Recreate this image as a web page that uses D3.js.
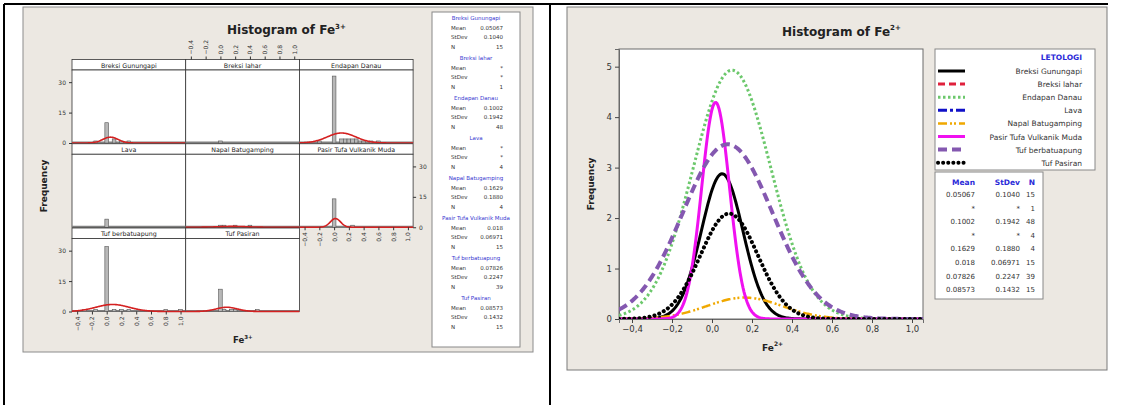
<!DOCTYPE html>
<html>
<head>
<meta charset="utf-8">
<script src="https://cdn.jsdelivr.net/npm/d3@7"></script>
<style>
  body { margin: 0; background: #fff; }
  svg { display: block; font-family: 'DejaVu Sans', sans-serif; }
</style>
</head>
<body>
<script>
/* globals d3 */

// values
const groups = ['Breksi Gunungapi', 'Breksi lahar', 'Endapan Danau', 'Lava',
  'Napal Batugamping', 'Pasir Tufa Vulkanik Muda', 'Tuf berbatuapung', 'Tuf Pasiran']
const means = [0.05067, null, 0.1002, null, 0.1629, 0.018, 0.07826, 0.08573]
const stdevs = [0.1040, null, 0.1942, null, 0.1880, 0.06971, 0.2247, 0.1432]
const counts = [15, 1, 48, 4, 4, 15, 39, 15]
const meanLabels = ['0.05067', '*', '0.1002', '*', '0.1629', '0.018', '0.07826', '0.08573']
const stdevLabels = ['0.1040', '*', '0.1942', '*', '0.1880', '0.06971', '0.2247', '0.1432']

// histogram bins per group: [bin centre, count]
const histBins = [
  [[-0.15, 1], [0, 10], [0.1, 2], [0.2, 1], [0.3, 1]],
  [[0, 1]],
  [[-0.2, 1], [0, 33], [0.1, 2], [0.15, 2], [0.2, 2], [0.25, 2], [0.3, 2], [0.35, 1], [0.4, 1], [0.5, 1], [0.6, 1]],
  [[0, 4]],
  [[0, 1], [0.05, 1], [0.2, 1], [0.4, 1]],
  [[0, 14], [0.25, 1]],
  [[-0.3, 1], [-0.15, 1], [0, 32], [0.1, 1], [0.2, 1], [0.3, 1], [0.8, 1], [1.0, 1]],
  [[0, 11], [0.05, 1], [0.15, 1], [0.2, 1], [0.5, 1]]
]
const binWidth = 0.05

const xTicks = [-0.4, -0.2, 0, 0.2, 0.4, 0.6, 0.8, 1.0]
const yTicksPanel = [0, 15, 30]
const yTicksOverlay = [0, 1, 2, 3, 4, 5]

const styles = [
  { color: '#000000', dash: null, width: 3, cap: 'butt' },
  { color: '#e0203c', dash: '7,4', width: 3, cap: 'butt' },
  { color: '#6cc86c', dash: '2.5,2.5', width: 3, cap: 'butt' },
  { color: '#1010c8', dash: '9,3,3,3', width: 3, cap: 'butt' },
  { color: '#f0a800', dash: '9,3,2,2,2,3', width: 2.5, cap: 'butt' },
  { color: '#f010f0', dash: null, width: 3, cap: 'butt' },
  { color: '#8458b0', dash: '9,5', width: 4, cap: 'butt' },
  { color: '#000000', dash: '0.1,5', width: 4, cap: 'round' }
]

const pdf = (x, m, s) => Math.exp(-0.5 * ((x - m) / s) ** 2) / (s * Math.sqrt(2 * Math.PI))
const fmtComma = d => d3.format('.1f')(d).replace('.', ',')

const svg = d3.create('svg')
  .attr('width', 1123)
  .attr('height', 405)
  .attr('xmlns', 'http://www.w3.org/2000/svg')

// ---------- left figure: panel histogram ----------
const left = svg.append('g')
left.append('rect')
  .attr('x', 23).attr('y', 7).attr('width', 510).attr('height', 345)
  .attr('fill', '#ece8e2').attr('stroke', '#8c8c8c')

const colX = [72, 185.7, 299.4]
const panelW = 113.7
const panelH = 73
const stripH = 10.5
const rowTop = [70, 154.25, 238.5]

const xP = d3.scaleLinear().domain([-0.47, 1.07]).range([0, panelW])
const yP = d3.scaleLinear().domain([0, 36]).range([panelH, 0])

groups.forEach((name, i) => {
  const row = Math.floor(i / 3)
  const col = i % 3
  const g = left.append('g')
    .attr('transform', `translate(${colX[col]},${rowTop[row]})`)

  g.append('rect')
    .attr('y', -stripH).attr('width', panelW).attr('height', stripH)
    .attr('fill', '#fff').attr('stroke', '#333').attr('stroke-width', 0.8)
  g.append('text')
    .attr('x', panelW / 2).attr('y', -2.5)
    .attr('text-anchor', 'middle').attr('font-size', 6.3).attr('fill', '#222')
    .text(name)
  g.append('rect')
    .attr('width', panelW).attr('height', panelH)
    .attr('fill', '#fff').attr('stroke', '#333').attr('stroke-width', 0.8)

  g.append('line')
    .attr('x1', 0).attr('x2', panelW)
    .attr('y1', yP(0) - 0.8).attr('y2', yP(0) - 0.8)
    .attr('stroke', '#808080').attr('stroke-width', 1.6)

  g.selectAll('rect.bar')
    .data(histBins[i]).enter()
    .append('rect')
    .attr('class', 'bar')
    .attr('x', d => xP(d[0] - binWidth / 2))
    .attr('width', d => xP(d[0] + binWidth / 2) - xP(d[0] - binWidth / 2))
    .attr('y', d => yP(d[1]))
    .attr('height', d => yP(0) - yP(d[1]))
    .attr('fill', '#b8b8b8').attr('stroke', '#555').attr('stroke-width', 0.6)

  if (means[i] !== null) {
    const xs = d3.range(-0.47, 1.0701, 0.01)
    g.append('path')
      .datum(xs)
      .attr('fill', 'none')
      .attr('stroke', '#d42020')
      .attr('stroke-width', 1.6)
      .attr('d', d3.line()
        .x(x => xP(x))
        .y(x => yP(counts[i] * binWidth * pdf(x, means[i], stdevs[i]))))
  }

  const small = a => a
    .call(a => a.select('.domain').remove())
    .call(a => a.selectAll('.tick line').attr('stroke', '#333'))
    .call(a => a.selectAll('.tick text').attr('font-size', 6).attr('fill', '#333')
      .attr('font-family', 'DejaVu Sans, sans-serif'))

  if (col === 0 && row !== 1) {
    g.append('g').call(d3.axisLeft(yP).tickValues(yTicksPanel).tickSize(3)).call(small)
  }
  if (col === 2 && row === 1) {
    g.append('g').attr('transform', `translate(${panelW},0)`)
      .call(d3.axisRight(yP).tickValues(yTicksPanel).tickSize(3)).call(small)
  }
  if (col === 1 && row === 0) {
    g.append('g').attr('transform', `translate(0,${-stripH})`)
      .call(d3.axisTop(xP).tickValues(xTicks).tickFormat(fmtComma).tickSize(3)).call(small)
      .call(a => a.selectAll('.tick text')
        .attr('transform', 'rotate(-90)')
        .attr('text-anchor', 'start').attr('x', 5).attr('y', 0).attr('dy', '0.32em'))
  }
  if ((col === 0 && row === 2) || (col === 2 && row === 1)) {
    g.append('g').attr('transform', `translate(0,${panelH})`)
      .call(d3.axisBottom(xP).tickValues(xTicks).tickFormat(fmtComma).tickSize(3)).call(small)
      .call(a => a.selectAll('.tick text')
        .attr('transform', 'rotate(-90)')
        .attr('text-anchor', 'end').attr('x', -5).attr('y', 0).attr('dy', '0.32em'))
  }
})

left.append('text')
  .attr('x', 227).attr('y', 34)
  .attr('font-size', 12).attr('font-weight', 'bold').attr('fill', '#222')
  .call(t => t.append('tspan').text('Histogram of Fe'))
  .call(t => t.append('tspan').attr('dy', -5).attr('font-size', 7).text('3+'))

left.append('text')
  .attr('transform', 'translate(47,186) rotate(-90)')
  .attr('text-anchor', 'middle')
  .attr('font-size', 9).attr('font-weight', 'bold').attr('fill', '#222')
  .text('Frequency')

left.append('text')
  .attr('x', 233).attr('y', 343)
  .attr('font-size', 8.5).attr('font-weight', 'bold').attr('fill', '#222')
  .call(t => t.append('tspan').text('Fe'))
  .call(t => t.append('tspan').attr('dy', -4).attr('font-size', 5.5).text('3+'))

// stats legend of the left figure
const leg1 = left.append('g')
leg1.append('rect')
  .attr('x', 432).attr('y', 12).attr('width', 88).attr('height', 335)
  .attr('fill', '#fff').attr('stroke', '#888')
groups.forEach((name, i) => {
  const y0 = 19.5 + i * 40
  leg1.append('text')
    .attr('x', 476).attr('y', y0).attr('text-anchor', 'middle')
    .attr('font-size', 5.5).attr('fill', '#3838d0')
    .text(name)
  const rows = [['Mean', meanLabels[i]], ['StDev', stdevLabels[i]], ['N', String(counts[i])]]
  rows.forEach((r, k) => {
    leg1.append('text').attr('x', 451).attr('y', y0 + 10 + k * 9.5)
      .attr('font-size', 5.5).attr('fill', '#333').text(r[0])
    leg1.append('text').attr('x', 503).attr('y', y0 + 10 + k * 9.5)
      .attr('text-anchor', 'end').attr('font-size', 5.5).attr('fill', '#333').text(r[1])
  })
})

// ---------- right figure: fitted normal overlay ----------
const right = svg.append('g')
right.append('rect')
  .attr('x', 567).attr('y', 7).attr('width', 540).attr('height', 363)
  .attr('fill', '#ece8e2').attr('stroke', '#7a7a7a')

const plot = { x0: 619, x1: 923, y0: 49, y1: 319 }
const xR = d3.scaleLinear().domain([-0.465, 1.055]).range([plot.x0, plot.x1])
const yR = d3.scaleLinear().domain([0, 5.35]).range([plot.y1, plot.y0])

right.append('rect')
  .attr('x', plot.x0).attr('y', plot.y0)
  .attr('width', plot.x1 - plot.x0).attr('height', plot.y1 - plot.y0)
  .attr('fill', '#fff').attr('stroke', '#6a6a6a')

svg.append('defs').append('clipPath').attr('id', 'plotClip')
  .append('rect')
  .attr('x', plot.x0).attr('y', plot.y0)
  .attr('width', plot.x1 - plot.x0).attr('height', plot.y1 - plot.y0)

const axisStyle = a => a
  .call(a => a.select('.domain').attr('stroke', '#6a6a6a'))
  .call(a => a.selectAll('.tick line').attr('stroke', '#444'))
  .call(a => a.selectAll('.tick text').attr('font-size', 8.5).attr('fill', '#333')
    .attr('font-family', 'DejaVu Sans, sans-serif'))

right.append('g')
  .attr('transform', `translate(0,${plot.y1})`)
  .call(d3.axisBottom(xR).tickValues(xTicks).tickFormat(fmtComma).tickSize(4))
  .call(axisStyle)
right.append('g')
  .attr('transform', `translate(${plot.x0},0)`)
  .call(d3.axisLeft(yR).tickValues(yTicksOverlay).tickFormat(d3.format('d')).tickSize(4))
  .call(axisStyle)

const xs = d3.range(-0.465, 1.0551, 0.005)
const curves = right.append('g').attr('clip-path', 'url(#plotClip)')
groups.forEach((name, i) => {
  if (means[i] === null) return
  const st = styles[i]
  curves.append('path')
    .datum(xs)
    .attr('fill', 'none')
    .attr('stroke', st.color)
    .attr('stroke-width', st.width)
    .attr('stroke-dasharray', st.dash)
    .attr('stroke-linecap', st.cap)
    .attr('d', d3.line()
      .x(x => xR(x))
      .y(x => yR(counts[i] * binWidth * pdf(x, means[i], stdevs[i]))))
})

right.append('text')
  .attr('x', 782).attr('y', 36)
  .attr('font-size', 12).attr('font-weight', 'bold').attr('fill', '#222')
  .call(t => t.append('tspan').text('Histogram of Fe'))
  .call(t => t.append('tspan').attr('dy', -6).attr('font-size', 7).text('2+'))

right.append('text')
  .attr('transform', 'translate(594,184) rotate(-90)')
  .attr('text-anchor', 'middle')
  .attr('font-size', 9).attr('font-weight', 'bold').attr('fill', '#222')
  .text('Frequency')

right.append('text')
  .attr('x', 762).attr('y', 351)
  .attr('font-size', 9).attr('font-weight', 'bold').attr('fill', '#222')
  .call(t => t.append('tspan').text('Fe'))
  .call(t => t.append('tspan').attr('dy', -5).attr('font-size', 6).text('2+'))

// legend
const leg2 = right.append('g')
leg2.append('rect')
  .attr('x', 935).attr('y', 49).attr('width', 160).attr('height', 121)
  .attr('fill', '#fff').attr('stroke', '#888')
leg2.append('text')
  .attr('x', 1082).attr('y', 60).attr('text-anchor', 'end')
  .attr('font-size', 7.5).attr('font-weight', 'bold').attr('fill', '#2a2ad8')
  .text('LETOLOGI')
groups.forEach((name, i) => {
  const y = 74 + i * 13.1
  const st = styles[i]
  leg2.append('line')
    .attr('x1', 938).attr('x2', 965).attr('y1', y - 3).attr('y2', y - 3)
    .attr('stroke', st.color).attr('stroke-width', st.width)
    .attr('stroke-dasharray', st.dash).attr('stroke-linecap', st.cap)
  leg2.append('text')
    .attr('x', 1082).attr('y', y).attr('text-anchor', 'end')
    .attr('font-size', 7.5).attr('fill', '#333')
    .text(name)
})

// stats table
const tab = right.append('g')
tab.append('rect')
  .attr('x', 935).attr('y', 172).attr('width', 108).attr('height', 127)
  .attr('fill', '#fff').attr('stroke', '#888')
const colRight = [975, 1020, 1035]
const headers = ['Mean', 'StDev', 'N']
headers.forEach((h, k) => {
  tab.append('text')
    .attr('x', colRight[k]).attr('y', 185).attr('text-anchor', 'end')
    .attr('font-size', 7.5).attr('font-weight', 'bold').attr('fill', '#2a2ad8')
    .text(h)
})
groups.forEach((name, i) => {
  const y = 197 + i * 13.6
  const cells = [meanLabels[i], stdevLabels[i], String(counts[i])]
  cells.forEach((c, k) => {
    tab.append('text')
      .attr('x', colRight[k]).attr('y', y).attr('text-anchor', 'end')
      .attr('font-size', 7).attr('fill', '#333')
      .text(c)
  })
})

// ---------- surrounding table lines ----------
svg.append('path')
  .attr('d', 'M4,4H1108M4,4V405M550,4V405')
  .attr('fill', 'none').attr('stroke', '#000').attr('stroke-width', 2)

document.body.appendChild(svg.node())
</script>
</body>
</html>
